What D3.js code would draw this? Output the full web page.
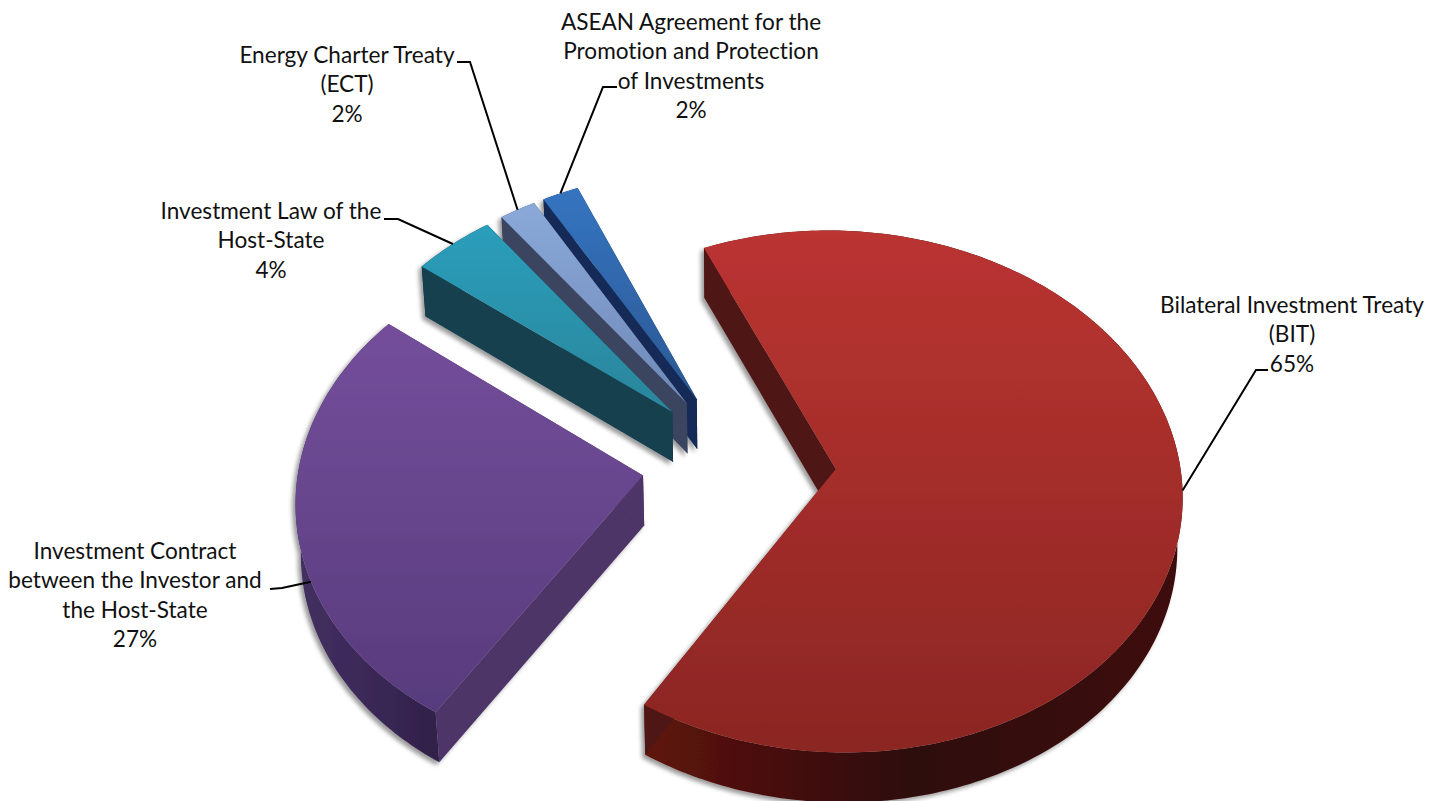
<!DOCTYPE html>
<html>
    <head>
        <title>Investment basis</title>
        <script src="https://cdnjs.cloudflare.com/ajax/libs/d3/7.8.5/d3.min.js"></script>
        <style>
            html, body { margin: 0; padding: 0; background: #fff; }
            text { font-family: Lato, "Open Sans", sans-serif; font-size: 22.6px; fill: #111; font-variant-ligatures: none; }
        </style>
    </head>

    <body>
        <svg id="canvas" width="1444" height="801"></svg>

        <script>
            // data
            var categories = ["Bilateral Investment Treaty (BIT)",
                "Investment Contract between the Investor and the Host-State",
                "Investment Law of the Host-State",
                "Energy Charter Treaty (ECT)",
                "ASEAN Agreement for the Promotion and Protection of Investments"];
            var shares = [65.4, 26.5, 4.3, 1.9, 1.9];
            var labelLines = [
                ["Bilateral Investment Treaty", "(BIT)"],
                ["Investment Contract", "between the Investor and", "the Host-State"],
                ["Investment Law of the", "Host-State"],
                ["Energy Charter Treaty", "(ECT)"],
                ["ASEAN Agreement for the", "Promotion and Protection", "of Investments"]
            ];
            var shareLabels = ["65%", "27%", "4%", "2%", "2%"];

            // colours, one row per slice
            var topColors = [["#bb3431", "#8b2623"], ["#7b53a2", "#55397a"], ["#2aa3c2", "#2a8499"], ["#8cabdc", "#6c86b4"], ["#3574c0", "#2a558f"]];
            var sideColors = ["#4f1715", "#4d3468", "#153f4d", "#3a455f", "#122c58"];
            var rimColors = [["#5f1410", "#2e0a09", "#3e0f0d"], ["#43305f", "#3a2857", "#2f2046"], ["#153f4d", "#153f4d", "#153f4d"], ["#3a455f", "#3a455f", "#3a455f"], ["#122c58", "#122c58", "#122c58"]];

            // label layout: centre x, first baseline, leader anchor along the slice (0..1), bend and end of leader
            var labelLayout = [
                {x: 1292, y: 313, at: 0.5, bend: [1256, 370], end: [1268, 370]},
                {x: 135, y: 559, at: 0.36, bend: [282, 588], end: [270, 589]},
                {x: 271, y: 219, at: 0.5, bend: [398, 219], end: [384, 219]},
                {x: 347, y: 63, at: 0.5, bend: [470, 62], end: [457, 62]},
                {x: 691, y: 30, at: 0.5, bend: [603, 87], end: [617, 87]}
            ];
            var lineHeight = 29.3;

            // scene geometry
            var cx = 739, cy = 463;
            var radius = 344, tilt = 0.75, persp = 0.086;
            var explode = 97, depth = 50, shrink = 0.012;
            var startAngle = -23 * Math.PI / 180;

            var svg = d3.select("#canvas");
            var defs = svg.append("defs");

            var shadow = defs.append("filter").attr("id", "shadow")
                .attr("x", "-10%").attr("y", "-10%").attr("width", "120%").attr("height", "120%");
            shadow.append("feDropShadow")
                .attr("dx", -3).attr("dy", 3).attr("stdDeviation", 2)
                .attr("flood-color", "#000").attr("flood-opacity", 0.4);

            function gradient(id, stops, vertical, a, b) {
                var g = defs.append("linearGradient").attr("id", id)
                    .attr("gradientUnits", "userSpaceOnUse")
                    .attr("x1", vertical ? 0 : a).attr("x2", vertical ? 0 : b)
                    .attr("y1", vertical ? a : 0).attr("y2", vertical ? b : 0);
                stops.forEach(function(c, i) {
                    g.append("stop").attr("offset", i / (stops.length - 1)).attr("stop-color", c);
                });
            }

            topColors.forEach(function(c, i) { gradient("top" + i, c, true, i < 2 ? 228 : 190, i < 2 ? 750 : 420); });
            rimColors.forEach(function(c, i) { gradient("rim" + i, c, false, i == 1 ? 300 : 640, i == 1 ? 445 : 1180); });

            // flat pie coordinates (radius 1) to the screen, z = 0 top face, z = 1 bottom
            function project(u, v, z) {
                var s = 1 / (1 - persp * v);
                var x = radius * u * s;
                var y = radius * tilt * v * s;
                return [cx + x * (1 - shrink * z), cy + y + depth * z];
            }

            var pie = d3.pie().sort(null).value(function(d) { return d; })
                .startAngle(startAngle).endAngle(startAngle + 2 * Math.PI);
            var slices = pie(shares);

            function apex(d) {
                var mid = (d.startAngle + d.endAngle) / 2;
                var e = explode / radius;
                return [e * Math.sin(mid), -e * Math.cos(mid)];
            }

            function arcPoint(d, a, z) {
                var o = apex(d);
                return project(o[0] + Math.sin(a), o[1] - Math.cos(a), z);
            }

            function arcPoints(d, z) {
                var n = Math.ceil((d.endAngle - d.startAngle) * 60);
                return d3.range(n + 1).map(function(k) {
                    return arcPoint(d, d.startAngle + (d.endAngle - d.startAngle) * k / n, z);
                });
            }

            var line = d3.line();
            function closed(points) { return line(points) + "Z"; }

            // back slices first, the big ones cover them
            d3.range(slices.length - 1, -1, -1).forEach(function(i) {
                var d = slices[i];
                var o = apex(d);
                var centreTop = project(o[0], o[1], 0), centreLow = project(o[0], o[1], 1);
                var g = svg.append("g").attr("filter", "url(#shadow)");

                g.append("path")
                    .attr("d", closed(arcPoints(d, 0).concat(arcPoints(d, 1).reverse())))
                    .attr("fill", "url(#rim" + i + ")");

                [d.startAngle, d.endAngle].forEach(function(a) {
                    g.append("path")
                        .attr("d", closed([centreTop, arcPoint(d, a, 0), arcPoint(d, a, 1), centreLow]))
                        .attr("fill", sideColors[i]);
                });

                g.append("path")
                    .attr("d", closed([centreTop].concat(arcPoints(d, 0))))
                    .attr("fill", "url(#top" + i + ")");
            });

            // leaders and labels
            slices.forEach(function(d, i) {
                var l = labelLayout[i];
                var a = d.startAngle + (d.endAngle - d.startAngle) * l.at;
                svg.append("path")
                    .attr("d", line([arcPoint(d, a, 0), l.bend, l.end]))
                    .attr("fill", "none").attr("stroke", "#000").attr("stroke-width", 2);

                var lines = labelLines[i].concat([shareLabels[i]]);
                svg.append("text").selectAll("tspan").data(lines).enter().append("tspan")
                    .attr("x", l.x)
                    .attr("y", function(t, k) { return l.y + k * lineHeight; })
                    .attr("text-anchor", "middle")
                    .text(function(t) { return t; });
            });
        </script>
    </body>
</html>
